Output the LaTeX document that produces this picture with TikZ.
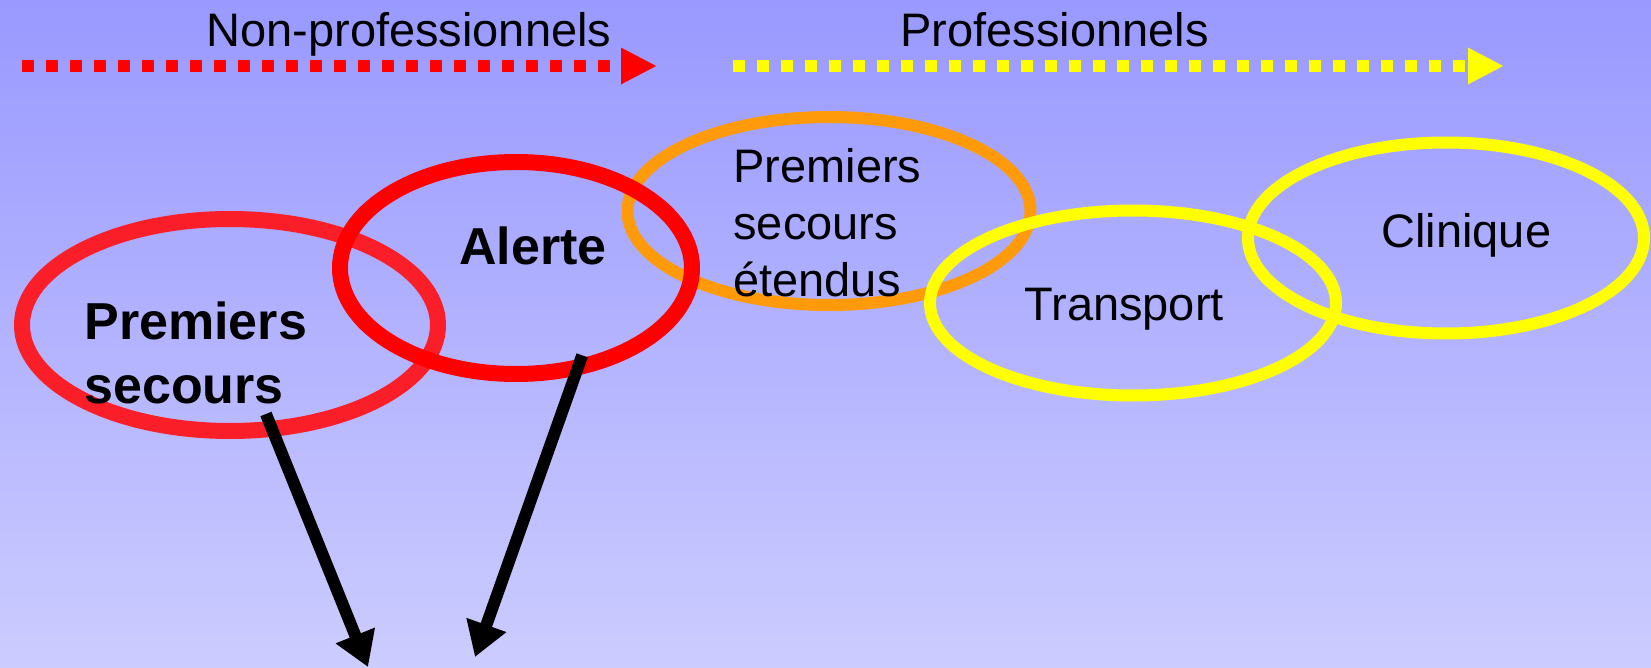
\documentclass[tikz,border=0pt]{standalone}
\usepackage{fontspec}
\setmainfont{Liberation Sans}
\usetikzlibrary{arrows.meta,shapes.geometric}
\definecolor{fondhaut}{RGB}{153,153,255}
\definecolor{fondbas}{RGB}{204,204,255}
\definecolor{rougeclair}{RGB}{250,30,40}
\definecolor{orangepse}{RGB}{255,155,10}
\definecolor{jaune}{RGB}{255,255,0}
\tikzset{every picture/.style={line width=0.75pt}}

\begin{document}
\begin{tikzpicture}[x=1pt,y=-1pt,
	anneau/.style={draw,ellipse,inner sep=0pt,outer sep=0pt},
	etiquette/.style={inner sep=0pt,anchor=base west,align=left,font=\fontsize{47}{56.5}\selectfont},
	etiquettegras/.style={etiquette,font=\fontsize{52}{64}\selectfont\bfseries},
	pointille/.style={line width=12pt,dash pattern=on 12pt off 12pt,-{Triangle[length=36pt,width=34pt]}},
	fleche/.style={line width=12pt,-{Triangle[length=34pt,width=40pt]}}]
				\fill[top color=fondhaut,bottom color=fondbas] (0,0) rectangle (1651,668); %fond
				\useasboundingbox (0,0) rectangle (1651,668);
				% fleches du haut
				\coordinate (np1) at (22,66); \coordinate (np2) at (657,66);
				\coordinate (pro1) at (733,66); \coordinate (pro2) at (1504,66);
				\draw[pointille,red] (np1)--(np2);
				\draw[pointille,jaune] (pro1)--(pro2);
				\node[etiquette] (np) at (206,47) {Non-professionnels};
				\node[etiquette] (pro) at (900,47) {Professionnels};
				% anneaux
				\node[anneau,draw=rougeclair,line width=16pt,minimum width=416pt,minimum height=212pt] (ps) at (230,325) {};
				\node[anneau,draw=orangepse,line width=12pt,minimum width=403pt,minimum height=188pt] (pse) at (829,211) {};
				\node[anneau,draw=red,line width=16pt,minimum width=352pt,minimum height=212pt] (alerte) at (516,268) {};
				\node[anneau,draw=jaune,line width=12pt,minimum width=406pt,minimum height=185pt] (transport) at (1133,303) {};
				\node[anneau,draw=jaune,line width=12pt,minimum width=396pt,minimum height=191pt] (clinique) at (1446,238) {};
				% textes (base = derniere ligne)
				\node[etiquettegras] (ps-texte) at (84,403) {Premiers\\secours};
				\node[etiquettegras] (alerte-texte) at (459,265) {Alerte};
				\node[etiquette] (pse-texte) at (733,296) {Premiers\\secours\\étendus};
				\node[etiquette] (transport-texte) at (1024,320) {Transport};
				\node[etiquette] (clinique-texte) at (1381,248) {Clinique};
				% fleches noires
				\coordinate (fin1) at (368,667); \coordinate (fin2) at (475,657);
				\draw[fleche,shorten <=-16pt] (ps.-68.4)--(fin1);
				\draw[fleche,shorten <=-12.6pt] (alerte.-58)--(fin2);
			\end{tikzpicture}
\end{document}
